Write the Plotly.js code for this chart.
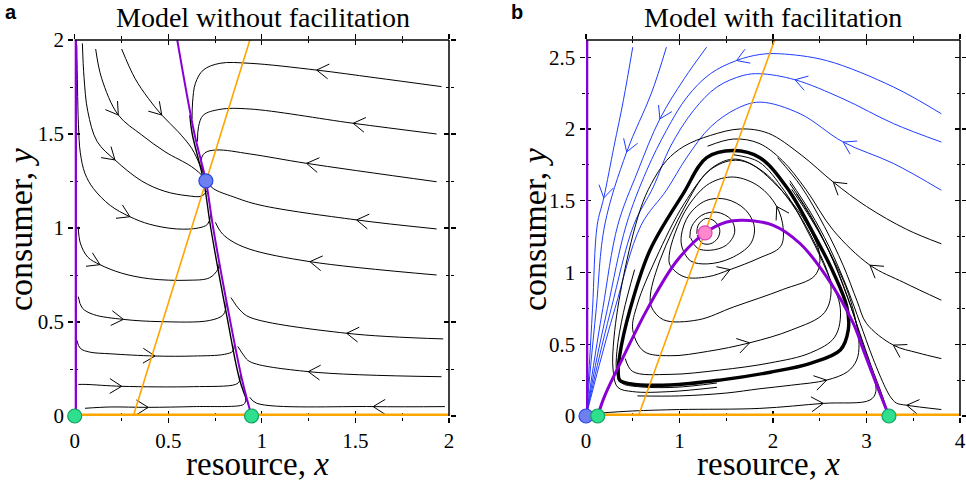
<!DOCTYPE html>
<html><head><meta charset="utf-8">
<script src="https://cdn.plot.ly/plotly-3.0.1.min.js"></script>
<style>html,body{margin:0;padding:0;background:#fff}#chart{width:966px;height:484px}</style>
</head><body><div id="chart"></div>
<script>
// ---------------- Panel a data (resource x, consumer y) ----------------
const aXTicks = [0, 0.5, 1, 1.5, 2];
const aYTicks = [0, 0.5, 1, 1.5, 2];
const aTop = [
 [[0.011,1.973],[0.015,1.75],[0.02,1.55],[0.03,1.40],[0.055,1.29],[0.10,1.21],[0.19,1.12],[0.295,1.06],[0.40,1.02],[0.545,0.995],[0.66,1.0],[0.71,1.02],[0.727,1.07]],
 [[0.041,1.982],[0.05,1.80],[0.07,1.62],[0.12,1.46],[0.215,1.362],[0.358,1.25],[0.482,1.195],[0.60,1.172],[0.68,1.17],[0.708,1.20]],
 [[0.112,1.952],[0.144,1.796],[0.233,1.601],[0.358,1.495],[0.482,1.406],[0.625,1.326],[0.687,1.273],[0.701,1.252]],
 [[0.251,1.952],[0.322,1.796],[0.393,1.69],[0.465,1.601],[0.553,1.512],[0.625,1.424],[0.669,1.335],[0.701,1.255]]
];
const aTopArrow = [7, 4, 2, 3];
const aLeft = [
 [[0.019,1.007],[0.03,0.92],[0.07,0.845],[0.135,0.805],[0.25,0.76],[0.40,0.73],[0.60,0.722],[0.72,0.735],[0.765,0.78],[0.772,0.81]],
 [[0.019,0.635],[0.04,0.575],[0.10,0.54],[0.26,0.514],[0.456,0.502],[0.72,0.508],[0.795,0.54],[0.81,0.61]],
 [[0.011,0.404],[0.03,0.36],[0.08,0.34],[0.189,0.331],[0.429,0.319],[0.634,0.319],[0.80,0.328],[0.845,0.345],[0.853,0.38]],
 [[0.019,0.168],[0.06,0.168],[0.251,0.158],[0.634,0.156],[0.86,0.168],[0.88,0.185],[0.885,0.22]],
 [[0.055,0.041],[0.189,0.048],[0.393,0.046],[0.634,0.05],[0.895,0.058],[0.91,0.07],[0.915,0.10]]
];
const aLeftArrow = [3, 3, 4, 2, 2];
const aRight = [
 [[1.96,1.752],[1.60,1.80],[1.293,1.84],[0.936,1.876],[0.776,1.876],[0.687,1.84],[0.645,1.77],[0.630,1.67],[0.627,1.58]],
 [[1.934,1.50],[1.488,1.557],[0.936,1.633],[0.776,1.631],[0.687,1.60],[0.662,1.54],[0.656,1.46]],
 [[1.934,1.246],[1.239,1.344],[0.936,1.394],[0.759,1.415],[0.696,1.40],[0.675,1.36],[0.69,1.29]],
 [[1.934,0.995],[1.506,1.043],[0.99,1.122],[0.847,1.166],[0.74,1.21],[0.705,1.248]],
 [[1.934,0.75],[1.257,0.821],[0.936,0.887],[0.83,0.936],[0.78,0.98],[0.752,1.03]],
 [[1.969,0.41],[1.453,0.44],[0.936,0.525],[0.883,0.564],[0.835,0.63]],
 [[1.96,0.209],[1.248,0.236],[0.936,0.289],[0.905,0.32],[0.872,0.37]],
 [[1.978,0.05],[1.595,0.05],[0.972,0.068],[0.935,0.10]]
];
const aRightArrow = [2, 1, 1, 1, 1, 1, 1, 1];
const aManifold = [[0.930,0.06],[0.882,0.19],[0.817,0.51],[0.727,1.0],[0.689,1.25],[0.628,1.5],[0.615,1.6]];
const aPurple = [[0.548,2],[0.64,1.5],[0.701,1.25],[0.74,1.0],[0.83,0.51],[0.895,0.19],[0.945,0]];
const aPurpleAxis = [[0,0],[0,2]];
const aOrange = [[0.313,0],[0.936,2]];
const aOrangeAxis = [[0,0],[2,0]];
const aGreenPts = [[0,0],[0.945,0]];
const aBluePts = [[0.701,1.251]];

// ---------------- Panel b data ----------------
const bXTicks = [0, 1, 2, 3, 4];
const bYTicks = [0, 0.5, 1, 1.5, 2, 2.5];
const bBlue = [
 [[0.50,2.57],[0.40,2.20],[0.30,1.88],[0.19,1.52],[0.12,1.33],[0.07,0.75],[0.035,0.35],[0.004,0.02]],
 [[0.86,2.57],[0.70,2.25],[0.435,1.84],[0.20,1.33],[0.11,0.75],[0.05,0.35],[0.005,0.02]],
 [[1.29,2.57],[1.05,2.35],[0.79,2.07],[0.55,1.70],[0.34,1.33],[0.18,0.75],[0.08,0.35],[0.006,0.02]],
 [[3.80,2.106],[3.29,2.292],[2.57,2.477],[2.07,2.524],[1.86,2.519],[1.61,2.477],[1.33,2.385],[1.08,2.222],[0.86,1.99],[0.65,1.712],[0.43,1.33],[0.23,0.75],[0.10,0.35],[0.007,0.02]],
 [[3.80,1.909],[3.29,2.037],[2.75,2.21],[2.235,2.343],[1.86,2.385],[1.68,2.373],[1.40,2.292],[1.15,2.129],[0.90,1.874],[0.72,1.596],[0.51,1.33],[0.27,0.75],[0.12,0.35],[0.008,0.02]],
 [[3.80,1.573],[3.29,1.759],[2.75,1.909],[2.29,2.106],[1.86,2.187],[1.61,2.141],[1.33,2.013],[1.08,1.804],[0.86,1.573],[0.59,1.33],[0.31,0.75],[0.14,0.35],[0.009,0.02]]
];
const bBlueArrow = [3, 2, 2, 5, 3, 2];
const bCycle = [[0.36,0.25],[0.47,0.225],[0.9,0.216],[1.43,0.25],[1.97,0.305],[2.4,0.367],[2.72,0.46],[2.805,0.6],[2.79,0.76],[2.645,1.0],[2.45,1.25],[2.15,1.59],[1.86,1.80],[1.58,1.85],[1.29,1.80],[1.04,1.55],[0.684,1.155],[0.47,0.74],[0.36,0.42],[0.345,0.3],[0.36,0.25]];
const bInner = [
 [[1.19,1.26],[1.24,1.205],[1.33,1.20],[1.41,1.24],[1.43,1.30],[1.37,1.36],[1.28,1.376],[1.20,1.33],[1.185,1.27]],
 [[1.12,1.24],[1.19,1.17],[1.33,1.155],[1.50,1.19],[1.59,1.28],[1.55,1.37],[1.40,1.42],[1.24,1.40],[1.13,1.32],[1.11,1.24]],
 [[1.03,1.17],[1.12,1.08],[1.30,1.06],[1.55,1.10],[1.76,1.20],[1.80,1.32],[1.70,1.44],[1.50,1.51],[1.28,1.50],[1.10,1.40],[1.02,1.26],[1.03,1.17]],
 [[0.90,1.05],[1.05,0.97],[1.30,0.97],[1.54,1.02],[1.85,1.10],[2.08,1.18],[2.11,1.30],[2.04,1.46],[1.85,1.60],[1.58,1.665],[1.32,1.62],[1.10,1.47],[0.95,1.27],[0.89,1.12],[0.90,1.05]],
 [[0.70,0.76],[0.83,0.67],[1.20,0.67],[1.58,0.76],[2.10,0.88],[2.45,0.98],[2.50,1.12],[2.35,1.35],[2.05,1.60],[1.75,1.76],[1.55,1.78],[1.30,1.70],[1.05,1.45],[0.80,1.10],[0.69,0.85],[0.70,0.76]],
 [[0.50,0.60],[0.62,0.45],[0.90,0.42],[1.30,0.45],[1.75,0.51],[2.20,0.60],[2.55,0.72],[2.62,0.90],[2.45,1.20],[2.20,1.48],[1.90,1.70],[1.60,1.79],[1.35,1.73],[1.05,1.48],[0.75,1.10],[0.55,0.78],[0.50,0.60]],
 [[0.42,0.40],[0.50,0.31],[0.90,0.29],[1.43,0.32],[1.97,0.37],[2.40,0.44],[2.66,0.55],[2.72,0.75],[2.58,1.0],[2.40,1.25],[2.12,1.57],[1.85,1.77],[1.58,1.82]]
];
const bInnerArrows = [[3,3],[3,7],[5,4]];
const bOuter = [
 [[3.80,1.20],[3.43,1.30],[3.0,1.46],[2.645,1.63],[2.30,1.82],[1.95,1.97],[1.65,2.00],[1.33,1.955],[1.05,1.88],[0.863,1.781],[0.70,1.62],[0.578,1.434],[0.40,0.97],[0.30,0.55],[0.29,0.32],[0.34,0.20],[0.50,0.17],[0.9,0.17],[1.4,0.2]],
 [[3.80,0.807],[3.40,0.93],[3.037,1.051],[2.645,1.294],[2.35,1.58],[2.10,1.78],[1.85,1.90],[1.58,1.93],[1.30,1.88]],
 [[3.80,0.40],[3.55,0.44],[3.287,0.494],[3.0,0.645],[2.90,0.80],[2.75,1.05],[2.55,1.32],[2.30,1.60],[2.05,1.80]],
 [[3.80,0.045],[3.43,0.075],[3.32,0.09],[3.26,0.13],[3.20,0.20],[3.07,0.40],[2.93,0.65],[2.80,0.88],[2.60,1.18],[2.40,1.42],[2.18,1.64]],
 [[3.24,0.0],[3.17,0.14],[3.05,0.35],[2.93,0.575],[2.80,0.82],[2.59,1.16],[2.40,1.38],[2.20,1.58]],
 [[0.14,0.02],[0.5,0.035],[1.0,0.045],[1.86,0.053],[2.538,0.088],[3.037,0.111],[3.10,0.17],[3.05,0.33],[2.95,0.52],[2.84,0.75],[2.68,1.03],[2.48,1.30],[2.25,1.55]],
 [[0.55,0.14],[1.0,0.14],[1.5,0.16],[1.86,0.19],[2.2,0.215],[2.574,0.25],[2.80,0.31],[2.895,0.39],[2.92,0.50],[2.88,0.68],[2.78,0.90],[2.60,1.15],[2.40,1.40],[2.18,1.62]],
 [[0.52,1.02],[0.40,0.72],[0.33,0.45],[0.33,0.30],[0.38,0.23],[0.55,0.205],[0.95,0.20],[1.4,0.23]]
];
const bOuterArrows = [[0,3],[1,2],[2,2],[3,1],[5,4],[6,5]];
const bPurple = [[0.125,0],[0.20,0.14],[0.39,0.40],[0.66,0.75],[0.97,1.08],[1.273,1.276],[1.505,1.352],[1.68,1.364],[2.003,1.329],[2.289,1.202],[2.574,0.969],[2.859,0.645],[2.966,0.46],[3.144,0.158],[3.24,0]];
const bPurpleAxis = [[0,0],[0,2.62]];
const bOrange = [[0.56,0],[2.02,2.625]];
const bOrangeAxis = [[0,0],[4,0]];
const bBluePts = [[0,0]];
const bGreenPts = [[0.125,0],[3.24,0]];
const bPinkPts = [[1.273,1.276]];

// ---------------- build ----------------
const W = 966, H = 484;
const ax1 = {x0: 74.7, x1: 449, xr: [0, 2], yr: [0, 2]};
const ax2 = {x0: 586, x1: 960, xr: [0, 4], yr: [0, 2.62]};
const yTop = 40, yBot = 416;
const BLACK = '#000', BLUE = '#1f3cff', PURPLE = '#8a00d4', ORANGE = '#ffa500';
const serif = 'Liberation Serif, Times New Roman, serif';

const traces = [];
function line(pts, xa, ya, color, width, shape, noclip) {
  const t = {x: pts.map(p => p[0]), y: pts.map(p => p[1]), xaxis: xa, yaxis: ya, mode: 'lines',
    line: {color: color, width: width, shape: shape || 'spline', smoothing: 1}, hoverinfo: 'skip', showlegend: false};
  if (noclip) t.cliponaxis = false;
  traces.push(t);
}
// open chevron arrowheads placed on a streamline point, oriented along the local tangent
function chevrons(list, xa, ya, geom, color) {
  const sx = (geom.x1 - geom.x0) / (geom.xr[1] - geom.xr[0]);
  const sy = (yBot - yTop) / (geom.yr[1] - geom.yr[0]);
  const L = 14, th = 32 * Math.PI / 180;
  const X = [], Y = [];
  list.forEach(([p, k]) => {
    const a = p[Math.max(k - 1, 0)], b = p[Math.min(k + 1, p.length - 1)];
    let dx = (b[0] - a[0]) * sx, dy = (b[1] - a[1]) * sy;
    const n = Math.hypot(dx, dy); dx /= n; dy /= n;
    const vx = -dx, vy = -dy;
    const arm = s => {
      const c = Math.cos(s * th), si = Math.sin(s * th);
      return [p[k][0] + L * (vx * c - vy * si) / sx, p[k][1] + L * (vx * si + vy * c) / sy];
    };
    const a1 = arm(1), a2 = arm(-1);
    X.push(a1[0], p[k][0], a2[0], null); Y.push(a1[1], p[k][1], a2[1], null);
  });
  traces.push({x: X, y: Y, xaxis: xa, yaxis: ya, mode: 'lines', line: {color: color, width: 1}, hoverinfo: 'skip', showlegend: false});
}
function pts(list, xa, ya, fill, edge) {
  traces.push({x: list.map(p => p[0]), y: list.map(p => p[1]), xaxis: xa, yaxis: ya, mode: 'markers', cliponaxis: false,
    marker: {size: 14, color: fill, line: {color: edge, width: 1.2}}, hoverinfo: 'skip', showlegend: false});
}

// panel a
const aArrowList = [];
aTop.forEach((s, i) => { line(s, 'x', 'y', BLACK, 1); aArrowList.push([s, aTopArrow[i]]); });
aLeft.forEach((s, i) => { line(s, 'x', 'y', BLACK, 1); aArrowList.push([s, aLeftArrow[i]]); });
aRight.forEach((s, i) => { line(s, 'x', 'y', BLACK, 1); aArrowList.push([s, aRightArrow[i]]); });
chevrons(aArrowList, 'x', 'y', ax1, BLACK);
line(aManifold, 'x', 'y', BLACK, 1.4);
line(aPurpleAxis, 'x', 'y', PURPLE, 4.6, 'linear', true);
line(aPurple, 'x', 'y', PURPLE, 2, 'spline');
line(aOrangeAxis, 'x', 'y', ORANGE, 4.8, 'linear', true);
line(aOrange, 'x', 'y', ORANGE, 1.6, 'linear');
pts(aGreenPts, 'x', 'y', '#2ee08e', '#10a060');
pts(aBluePts, 'x', 'y', '#6e80f0', '#2848e8');

// panel b
const bBlueArrowList = [];
bBlue.forEach((s, i) => { line(s, 'x2', 'y2', BLUE, 1); bBlueArrowList.push([s, bBlueArrow[i]]); });
chevrons(bBlueArrowList, 'x2', 'y2', ax2, BLUE);
bInner.forEach(s => line(s, 'x2', 'y2', BLACK, 1));
bOuter.forEach(s => line(s, 'x2', 'y2', BLACK, 1));
chevrons(bInnerArrows.map(p => [bInner[p[0]], p[1]]).concat(bOuterArrows.map(p => [bOuter[p[0]], p[1]])), 'x2', 'y2', ax2, BLACK);
line(bCycle, 'x2', 'y2', BLACK, 3.4);
line(bPurpleAxis, 'x2', 'y2', PURPLE, 4.6, 'linear', true);
line(bPurple, 'x2', 'y2', PURPLE, 3, 'spline');
line(bOrangeAxis, 'x2', 'y2', ORANGE, 4.8, 'linear', true);
line(bOrange, 'x2', 'y2', ORANGE, 1.6, 'linear');
pts(bBluePts, 'x2', 'y2', '#6e80f0', '#2848e8');
pts(bGreenPts, 'x2', 'y2', '#2ee08e', '#10a060');
pts(bPinkPts, 'x2', 'y2', '#ff88cc', '#e040c0');

// empty traces for overlay (inside-tick) axes
traces.push({x: [], y: [], xaxis: 'x3', yaxis: 'y3', mode: 'lines', showlegend: false});
traces.push({x: [], y: [], xaxis: 'x4', yaxis: 'y4', mode: 'lines', showlegend: false});

const tickFont = {family: serif, size: 21, color: '#000'};
const yDom = [(H - yBot) / H, (H - yTop) / H];
function axis(dom, range, vals, minorStep, anchor, inside, overlay) {
  const o = {range: range, tickmode: 'array', tickvals: vals, ticktext: vals.map(String),
    ticks: inside ? 'inside' : 'outside', ticklen: 5, tickwidth: 1.2, tickcolor: '#000',
    minor: {dtick: minorStep, tick0: 0, ticks: inside ? 'inside' : 'outside', ticklen: 3, tickwidth: 1, tickcolor: '#000'},
    showline: true, linecolor: 'rgba(0,0,0,0)', linewidth: 1.5, mirror: 'ticks', showgrid: false, zeroline: false,
    tickfont: tickFont, anchor: anchor, fixedrange: true, layer: 'below traces'};
  if (dom) o.domain = dom;
  if (overlay) { o.overlaying = overlay; o.showticklabels = false; }
  return o;
}
const xDom1 = [ax1.x0 / W, ax1.x1 / W], xDom2 = [ax2.x0 / W, ax2.x1 / W];
// black frame on the top and right edges of each plotting area (bottom/left edges are the nullclines)
const frame = [];
[xDom1, xDom2].forEach(d => {
  frame.push({type: 'line', xref: 'paper', yref: 'paper', x0: d[0], x1: d[1], y0: yDom[1], y1: yDom[1], line: {color: '#000', width: 1.5}, layer: 'above'});
  frame.push({type: 'line', xref: 'paper', yref: 'paper', x0: d[1], x1: d[1], y0: yDom[0], y1: yDom[1], line: {color: '#000', width: 1.5}, layer: 'above'});
});
const txt = (text, px, py, size, extra) => Object.assign({text: text, x: px / W, y: 1 - py / H, xref: 'paper', yref: 'paper',
  showarrow: false, xanchor: 'center', yanchor: 'middle', font: {family: serif, size: size, color: '#000'}}, extra || {});
const layout = {
  width: W, height: H, margin: {l: 0, r: 0, t: 0, b: 0}, paper_bgcolor: '#fff', plot_bgcolor: '#fff',
  showlegend: false,
  xaxis: axis(xDom1, ax1.xr, aXTicks, 0.25, 'y', false),
  yaxis: axis(yDom, ax1.yr, aYTicks, 0.25, 'x', false),
  xaxis2: axis(xDom2, ax2.xr, bXTicks, 0.5, 'y2', false),
  yaxis2: axis(yDom, ax2.yr, bYTicks, 0.25, 'x2', false),
  xaxis3: axis(null, ax1.xr, aXTicks, 0.25, 'y3', true, 'x'),
  yaxis3: axis(null, ax1.yr, aYTicks, 0.25, 'x3', true, 'y'),
  xaxis4: axis(null, ax2.xr, bXTicks, 0.5, 'y4', true, 'x2'),
  yaxis4: axis(null, ax2.yr, bYTicks, 0.25, 'x4', true, 'y2'),
  shapes: frame,
  annotations: [
    txt('Model without facilitation', 263, 17, 28),
    txt('Model with facilitation', 773, 17, 28),
    txt('resource, <i>x</i>', 257, 484, 33, {yanchor: 'bottom', y: 0}),
    txt('resource, <i>x</i>', 768, 484, 33, {yanchor: 'bottom', y: 0}),
    txt('consumer, <i>y</i>', 21, 229, 34, {textangle: -90}),
    txt('consumer, <i>y</i>', 535, 229, 34, {textangle: -90}),
    txt('<b>a</b>', 11, 12, 20, {font: {family: 'Liberation Sans, Arial, sans-serif', size: 20, color: '#000'}}),
    txt('<b>b</b>', 517, 12, 20, {font: {family: 'Liberation Sans, Arial, sans-serif', size: 20, color: '#000'}})
  ]
};
Plotly.newPlot('chart', traces, layout, {staticPlot: true, displayModeBar: false});
</script></body></html>
